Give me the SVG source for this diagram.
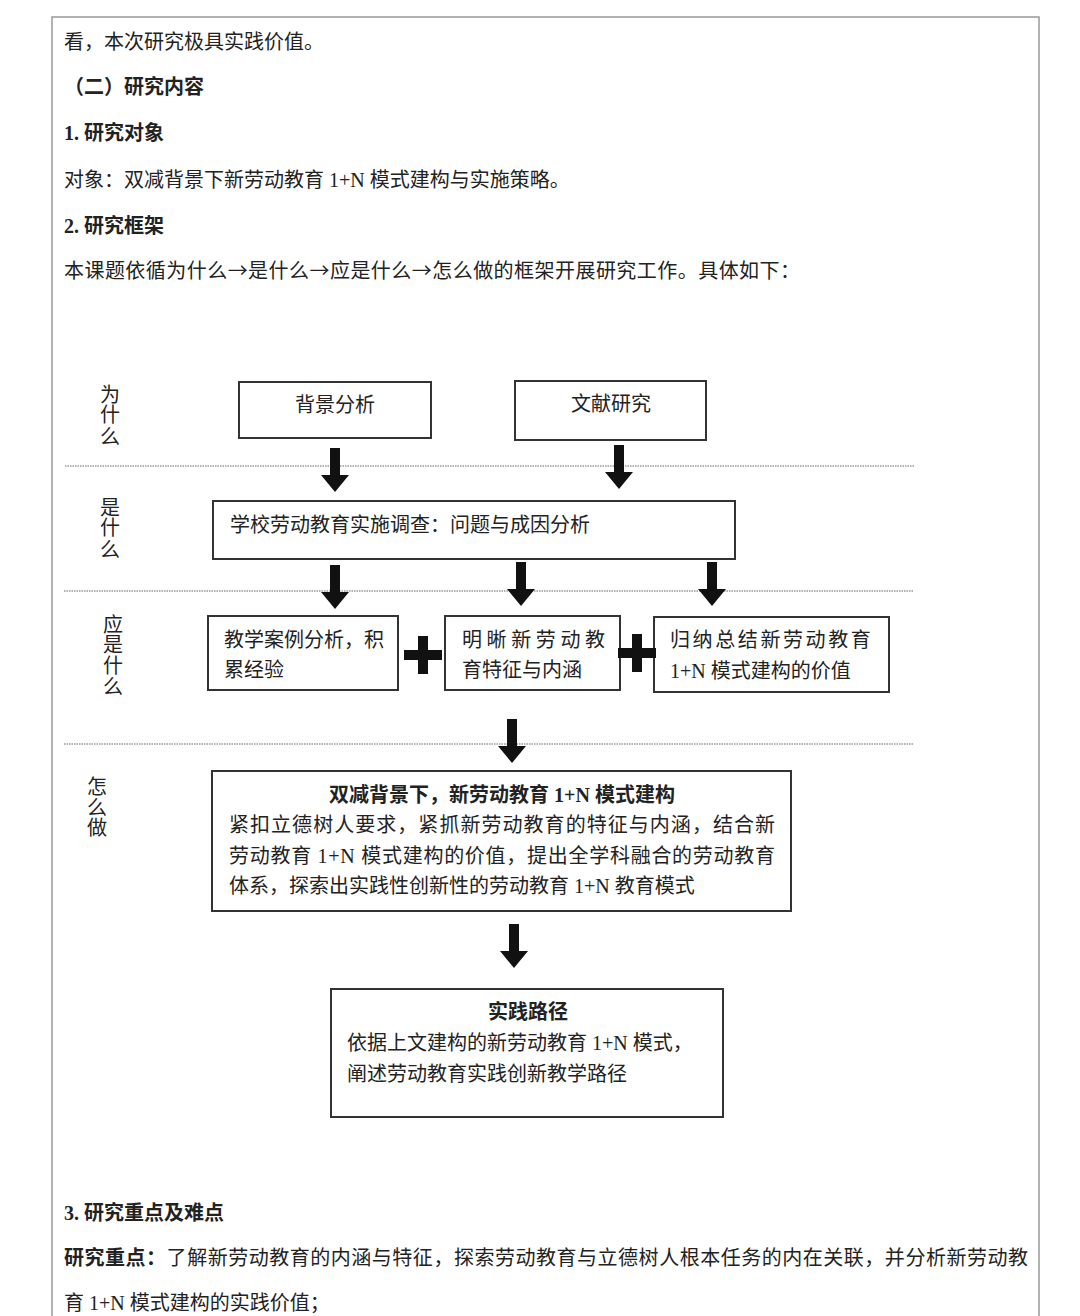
<svg xmlns="http://www.w3.org/2000/svg" width="1080" height="1316" viewBox="0 0 1080 1316">
<defs>
<style>
text{font-family:"Liberation Serif","Noto Sans CJK SC",serif;fill:#222;}
.t{font-size:20px;}
.b{font-size:20px;font-weight:bold;}
.lab{font-size:20px;}
.box{fill:#fff;stroke:#333;stroke-width:2;}
.sep{stroke:#999;stroke-width:1.5;stroke-dasharray:1.5 1;}
.bt{font-size:20px;}
.ar{font-family:"Noto Sans CJK SC",sans-serif;}
</style>
<path id="arrow" d="M-5,0 h10 v27 h9 l-14,17 l-14,-17 h9 z" fill="#111"/>
<path id="plus" d="M-5,-19 h10 v14 h14 v10 h-14 v14 h-10 v-14 h-14 v-10 h14 z" fill="#111"/>
</defs>
<rect width="1080" height="1316" fill="#fff"/>
<rect x="52" y="17" width="987" height="1330" fill="none" stroke="#999" stroke-width="1.5"/>

<g id="body-text">
<text class="t" x="64" y="49">看，本次研究极具实践价值。</text>
<text class="b" x="64" y="94">（二）研究内容</text>
<text class="b" x="64" y="140">1. 研究对象</text>
<text class="t" x="64" y="187">对象：双减背景下新劳动教育 1+N 模式建构与实施策略。</text>
<text class="b" x="64" y="233">2. 研究框架</text>
<text class="t" x="64" y="278" textLength="736">本课题依循为什么<tspan class="ar">→</tspan>是什么<tspan class="ar">→</tspan>应是什么<tspan class="ar">→</tspan>怎么做的框架开展研究工作。具体如下：</text>
<text class="b" x="64" y="1220">3. 研究重点及难点</text>
<text class="t" x="64" y="1265" textLength="964"><tspan font-weight="bold">研究重点：</tspan>了解新劳动教育的内涵与特征，探索劳动教育与立德树人根本任务的内在关联，并分析新劳动教</text>
<text class="t" x="64" y="1310">育 1+N 模式建构的实践价值；</text>
</g>

<g id="stage-labels">
<text class="lab" x="100" y="402">为</text><text class="lab" x="100" y="422">什</text><text class="lab" x="100" y="444">么</text>
<text class="lab" x="100" y="515">是</text><text class="lab" x="100" y="535">什</text><text class="lab" x="100" y="557">么</text>
<text class="lab" x="103" y="632">应</text><text class="lab" x="103" y="652">是</text><text class="lab" x="103" y="673">什</text><text class="lab" x="103" y="694">么</text>
<text class="lab" x="87" y="794">怎</text><text class="lab" x="87" y="815">么</text><text class="lab" x="87" y="835">做</text>
</g>

<g id="separators">
<line class="sep" x1="65" y1="466" x2="914" y2="466"/>
<line class="sep" x1="64" y1="591" x2="914" y2="591"/>
<line class="sep" x1="64" y1="744" x2="914" y2="744"/>
</g>

<g id="n1"><rect class="box" x="239" y="382" width="192" height="56"/><text class="bt" x="335" y="412" text-anchor="middle">背景分析</text></g>
<g id="n2"><rect class="box" x="515" y="381" width="191" height="59"/><text class="bt" x="611" y="411" text-anchor="middle">文献研究</text></g>
<g id="n3"><rect class="box" x="213" y="501" width="522" height="58"/><text class="bt" x="230" y="532">学校劳动教育实施调查：问题与成因分析</text></g>
<g id="n4"><rect class="box" x="208" y="616" width="190" height="74"/><text class="bt" x="224" y="647">教学案例分析，积</text><text class="bt" x="224" y="677">累经验</text></g>
<g id="n5"><rect class="box" x="445" y="616" width="175" height="74"/><text class="bt" x="462" y="647" letter-spacing="4.6">明晰新劳动教</text><text class="bt" x="462" y="677">育特征与内涵</text></g>
<g id="n6"><rect class="box" x="654" y="617" width="235" height="75"/><text class="bt" x="670" y="647" letter-spacing="2.6">归纳总结新劳动教育</text><text class="bt" x="670" y="678">1+N 模式建构的价值</text></g>
<g id="n7"><rect class="box" x="212" y="771" width="579" height="140"/>
<text class="b" x="502" y="802" text-anchor="middle">双减背景下，新劳动教育 1+N 模式建构</text>
<text class="bt" x="229" y="832" textLength="546">紧扣立德树人要求，紧抓新劳动教育的特征与内涵，结合新</text>
<text class="bt" x="229" y="863" textLength="546">劳动教育 1+N 模式建构的价值，提出全学科融合的劳动教育</text>
<text class="bt" x="229" y="893">体系，探索出实践性创新性的劳动教育 1+N 教育模式</text></g>
<g id="n8"><rect class="box" x="331" y="989" width="392" height="128"/>
<text class="b" x="528" y="1019" text-anchor="middle">实践路径</text>
<text class="bt" x="347" y="1050">依据上文建构的新劳动教育 1+N 模式，</text>
<text class="bt" x="347" y="1081">阐述劳动教育实践创新教学路径</text></g>

<g id="connectors">
<use href="#arrow" x="335" y="448"/>
<use href="#arrow" x="619" y="445"/>
<use href="#arrow" x="335" y="565"/>
<use href="#arrow" x="521" y="562"/>
<use href="#arrow" x="712" y="562"/>
<use href="#arrow" x="512" y="719"/>
<use href="#arrow" x="514" y="924"/>
<use href="#plus" x="423" y="655"/>
<use href="#plus" x="637" y="653"/>
</g>
</svg>
